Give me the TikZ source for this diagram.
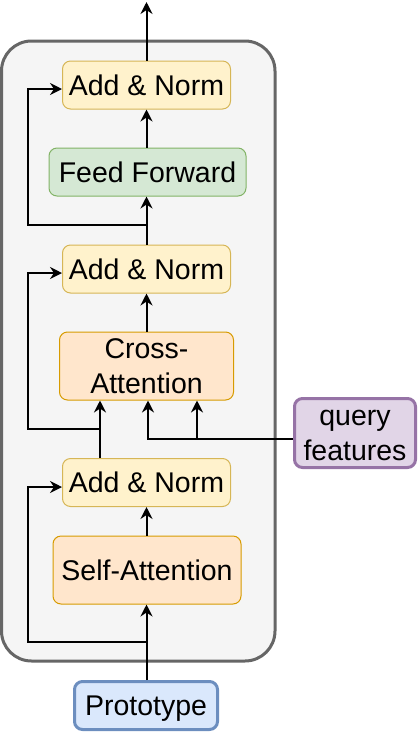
\documentclass[tikz,border=0pt]{standalone}
\usepackage{fontspec}
\setmainfont{Liberation Sans}
\usetikzlibrary{arrows.meta}
\definecolor{ylwF}{HTML}{FFF2CC}\definecolor{ylwD}{HTML}{D6B656}
\definecolor{grnF}{HTML}{D5E8D4}\definecolor{grnD}{HTML}{82B366}
\definecolor{orgF}{HTML}{FFE6CC}\definecolor{orgD}{HTML}{D79B00}
\definecolor{bluF}{HTML}{DAE8FC}\definecolor{bluD}{HTML}{6C8EBF}
\definecolor{purF}{HTML}{E1D5E7}\definecolor{purD}{HTML}{9673A6}
\definecolor{conF}{HTML}{F5F5F5}\definecolor{conD}{HTML}{666666}
\tikzset{
  blk/.style={rounded corners=8pt, inner sep=0pt, align=center, line width=1pt,
    font=\fontsize{28.5}{34.5}\selectfont},
  addnorm/.style={blk, fill=ylwF, draw=ylwD, minimum width=168pt, minimum height=48pt},
  ffbox/.style={blk, fill=grnF, draw=grnD, minimum width=197pt, minimum height=48pt},
  attbox/.style={blk, fill=orgF, draw=orgD, minimum height=68pt},
  protobox/.style={blk, fill=bluF, draw=bluD, line width=3pt, minimum width=143pt, minimum height=48pt, text depth=0pt},
  querybox/.style={blk, fill=purF, draw=purD, line width=3pt, minimum width=121pt, minimum height=69pt},
  arr/.style={line width=2pt, -{Stealth[length=12pt,width=12pt,inset=4pt]}},
  ln/.style={line width=2pt}
}
\begin{document}
\begin{tikzpicture}[x=1pt,y=-1pt]
\useasboundingbox (0,0) rectangle (420,732);
\draw[fill=conF, draw=conD, line width=3pt, rounded corners=30pt] (1.5,41) rectangle (275,661);

\node[addnorm] (an1) at (146.5,85) {Add \& Norm};
\node[ffbox] (ff) at (147.5,172) {Feed Forward};
\node[addnorm] (an2) at (146.5,269) {Add \& Norm};
\node[attbox, minimum width=174pt] (ca) at (146.5,366) {Cross-\\Attention};
\node[addnorm] (an3) at (146.5,482.5) {Add \& Norm};
\node[attbox, minimum width=188pt] (sa) at (147,570) {Self-Attention};
\node[protobox] (proto) at (146,705.5) {Prototype};
\node[querybox] (qf) at (355,433) {\rule{0pt}{0.716em}query\\features};

\coordinate (out) at (146.5,2);
\coordinate (b1) at (146.5,225);
\coordinate (k1) at (28,89);
\coordinate (b2) at (100,429);
\coordinate (k2) at (28,273);
\coordinate (b3) at (146.5,642);
\coordinate (k3) at (28,487);
\coordinate (q1) at (148,439);
\coordinate (q2) at (197,439);

% main flow
\draw[arr] (proto.north -| b3) -- (sa.south -| b3);
\draw[arr] (sa.north -| b3) -- (an3.south -| b3);
\draw[arr] (an3.north -| b2) -- (ca.south -| b2);
\draw[arr] (ca.north -| b1) -- (an2.south -| b1);
\draw[arr] (an2.north -| b1) -- (ff.south -| b1);
\draw[arr] (ff.north -| b1) -- (an1.south -| b1);
\draw[arr] (an1.north -| out) -- (out);

% residual connections
\draw[arr] (b3) -| (k3) -- (k3 -| an3.west);
\draw[arr] (b2) -| (k2) -- (k2 -| an2.west);
\draw[arr] (b1) -| (k1) -- (k1 -| an1.west);

% query features
\draw[arr] (qf.west |- q1) -| (ca.south -| q1);
\draw[arr] (q2) -- (ca.south -| q2);
\end{tikzpicture}
\end{document}
